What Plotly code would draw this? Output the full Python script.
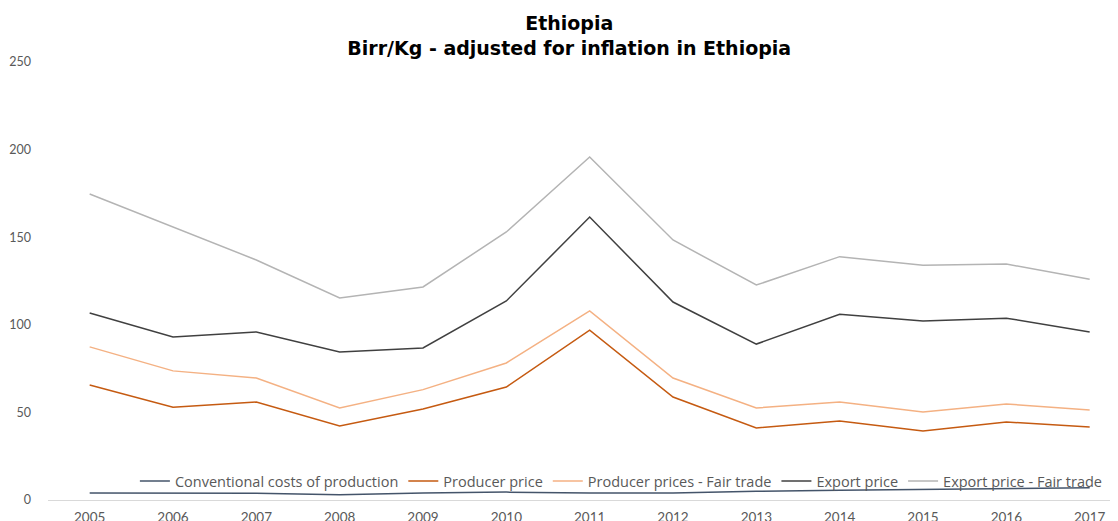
import plotly.graph_objects as go

years = [2005, 2006, 2007, 2008, 2009, 2010, 2011, 2012, 2013, 2014, 2015, 2016, 2017]
conventional_costs = [4.0, 4.0, 3.8, 3.0, 4.0, 4.5, 4.0, 4.0, 5.0, 5.5, 6.0, 6.5, 7.0]
producer_price = [65.6, 53.0, 55.9, 42.2, 51.9, 64.5, 97.0, 58.8, 41.1, 45.1, 39.4, 44.5, 41.7]
producer_price_ft = [87.4, 73.7, 69.6, 52.5, 63.0, 78.2, 107.9, 69.6, 52.5, 55.9, 50.2, 54.8, 51.4]
export_price = [106.7, 93.0, 95.9, 84.5, 86.8, 113.6, 161.5, 113.0, 89.0, 106.0, 102.2, 103.8, 95.9]
export_price_ft = [174.7, 156.0, 137.0, 115.3, 121.6, 153.0, 195.8, 148.4, 122.7, 138.9, 134.0, 134.7, 126.0]
y_ticks = [0, 50, 100, 150, 200, 250]

series = [
    ("Conventional costs of production", conventional_costs, "#44546A"),
    ("Producer price", producer_price, "#C55A11"),
    ("Producer prices - Fair trade", producer_price_ft, "#F4B183"),
    ("Export price", export_price, "#404040"),
    ("Export price - Fair trade", export_price_ft, "#B4B4B4"),
]

fig = go.Figure()
for name, vals, col in series:
    fig.add_trace(go.Scatter(x=years, y=vals, name=name, mode="lines",
                             line=dict(color=col, width=1.5)))

fig.update_layout(
    width=1118, height=521,
    paper_bgcolor="white", plot_bgcolor="white",
    margin=dict(l=40, r=0, t=54, b=29, autoexpand=False),
    font=dict(family="Lato", color="#595959", size=13),
    title=dict(text="Ethiopia<br>Birr/Kg - adjusted for inflation in Ethiopia",
               x=0.502, xanchor="center", yref="container", y=0.958, yanchor="top",
               font=dict(family="DejaVu Sans", size=19, color="#000000", weight="bold")),
    legend=dict(orientation="h", xref="paper", yref="paper",
                x=0.0806, xanchor="left", y=0.043, yanchor="middle",
                font=dict(family="Open Sans", size=14.5, color="#595959"),
                bgcolor="rgba(0,0,0,0)", itemwidth=30),
    showlegend=True,
)
fig.update_xaxes(range=[2004.5, 2017.436], tickvals=years, ticktext=[str(y) for y in years],
                 showgrid=False, zeroline=False, showline=True, linecolor="#D9D9D9",
                 linewidth=1, ticks="", ticklabelstandoff=5, automargin=False,
                 tickfont=dict(size=13.5))
fig.update_yaxes(range=[0, 250], tickvals=y_ticks, showgrid=False, zeroline=False,
                 showline=False, ticks="", ticklabelstandoff=16, automargin=False,
                 tickfont=dict(size=12.5))

fig.write_html("out.html")
